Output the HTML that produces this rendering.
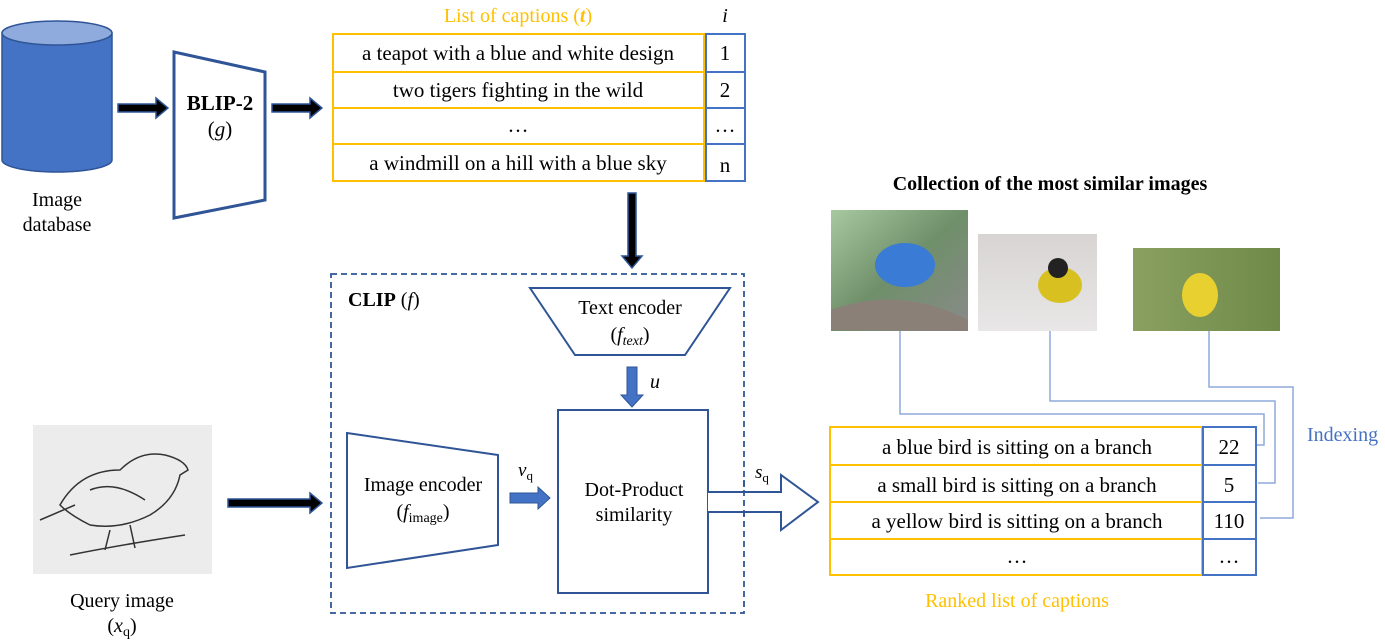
<!DOCTYPE html>
<html><head><meta charset="utf-8"><style>
body{margin:0;background:#fff}
svg{display:block;font-family:"Liberation Serif",serif}
</style></head><body>
<svg width="1385" height="640" viewBox="0 0 1385 640" xmlns="http://www.w3.org/2000/svg">
<defs>
<linearGradient id="b1" x1="0" y1="0" x2="1" y2="1"><stop offset="0" stop-color="#a8c8a0"/><stop offset="0.5" stop-color="#6f8f6a"/><stop offset="1" stop-color="#8a8a8a"/></linearGradient>
<linearGradient id="b2" x1="0" y1="0" x2="0" y2="1"><stop offset="0" stop-color="#d8d4d4"/><stop offset="1" stop-color="#e8e6e6"/></linearGradient>
<linearGradient id="b3" x1="0" y1="0" x2="1" y2="0"><stop offset="0" stop-color="#8aa060"/><stop offset="1" stop-color="#6f8a48"/></linearGradient>
</defs>
<path d="M2 33 L2 160 A55 12 0 0 0 112 160 L112 33 Z" fill="#4472C4" stroke="#2F5597" stroke-width="1.5"/>
<ellipse cx="57" cy="33" rx="55" ry="12" fill="#8FAADC" stroke="#2F5597" stroke-width="1.5"/>
<text x="57" y="206" font-size="20" text-anchor="middle">Image</text>
<text x="57" y="231" font-size="20" text-anchor="middle">database</text>
<g fill="#000" stroke="#2F5597" stroke-width="1.5">
<path d="M118 104 L156 104 L156 98 L168 108 L156 118 L156 112 L118 112 Z"/>
<path d="M272 104 L310 104 L310 98 L322 108 L310 118 L310 112 L272 112 Z"/>
<path d="M628 193 L636 193 L636 256 L642 256 L632 268 L622 256 L628 256 Z"/>
<path d="M228 499 L310 499 L310 493 L322 503 L310 513 L310 507 L228 507 Z"/>
</g>
<path d="M174 52 L265 72 L265 200 L174 218 Z" fill="#fff" stroke="#2F5597" stroke-width="3"/>
<text x="220" y="110" font-size="21" font-weight="bold" text-anchor="middle">BLIP-2</text>
<text x="220" y="136" font-size="21" text-anchor="middle">(<tspan font-style="italic">g</tspan>)</text>
<text x="518" y="22" font-size="20" fill="#FFC000" text-anchor="middle">List of captions (<tspan font-style="italic" font-weight="bold">t</tspan>)</text>
<text x="725" y="22" font-size="20" font-style="italic" text-anchor="middle">i</text>
<g fill="#fff" stroke="#FFC000" stroke-width="2">
<rect x="333" y="34" width="371" height="38"/><rect x="333" y="72" width="371" height="36"/>
<rect x="333" y="108" width="371" height="36"/><rect x="333" y="144" width="371" height="37"/>
</g>
<g fill="#fff" stroke="#4472C4" stroke-width="2">
<rect x="706" y="34" width="39" height="38"/><rect x="706" y="72" width="39" height="36"/>
<rect x="706" y="108" width="39" height="36"/><rect x="706" y="144" width="39" height="37"/>
</g>
<g font-size="21" text-anchor="middle">
<text x="518" y="60">a teapot with a blue and white design</text>
<text x="518" y="97">two tigers fighting in the wild</text>
<text x="518" y="132">…</text>
<text x="518" y="170">a windmill on a hill with a blue sky</text>
<text x="725" y="60">1</text><text x="725" y="97">2</text><text x="725" y="132">…</text><text x="725" y="172">n</text>
</g>
<rect x="331" y="274" width="413" height="339" fill="none" stroke="#2F5597" stroke-width="1.8" stroke-dasharray="6,4"/>
<text x="348" y="306" font-size="20"><tspan font-weight="bold">CLIP</tspan> (<tspan font-style="italic">f</tspan>)</text>
<path d="M530 288 L730 288 L685 355 L575 355 Z" fill="#fff" stroke="#2F5597" stroke-width="2"/>
<text x="630" y="314" font-size="20" text-anchor="middle">Text encoder</text>
<text x="630" y="341" font-size="20" text-anchor="middle">(<tspan font-style="italic">f</tspan><tspan font-style="italic" font-size="14" dy="4">text</tspan><tspan dy="-4">)</tspan></text>
<path d="M627 367 L637 367 L637 395 L643 395 L632 407 L621 395 L627 395 Z" fill="#4472C4" stroke="#2F5597"/>
<text x="650" y="388" font-size="20" font-style="italic">u</text>
<rect x="558" y="410" width="150" height="183" fill="#fff" stroke="#2F5597" stroke-width="2"/>
<text x="634" y="496" font-size="20" text-anchor="middle">Dot-Product</text>
<text x="634" y="521" font-size="20" text-anchor="middle">similarity</text>
<path d="M347 433 L498 455 L498 545 L347 568 Z" fill="#fff" stroke="#2F5597" stroke-width="2"/>
<text x="423" y="491" font-size="20" text-anchor="middle">Image encoder</text>
<text x="423" y="518" font-size="20" text-anchor="middle">(<tspan font-style="italic">f</tspan><tspan font-size="14" dy="4">image</tspan><tspan dy="-4">)</tspan></text>
<path d="M510 493 L538 493 L538 487 L550 498 L538 509 L538 503 L510 503 Z" fill="#4472C4" stroke="#2F5597"/>
<text x="518" y="476" font-size="19" font-style="italic">v<tspan font-style="normal" font-size="13" dy="4">q</tspan></text>
<path d="M708 492 L781 492 L781 475 L818 502 L781 530 L781 512 L708 512" fill="#fff" stroke="#2F5597" stroke-width="2"/>
<line x1="744" y1="480" x2="744" y2="520" stroke="#2F5597" stroke-width="1.8" stroke-dasharray="6,4"/>
<text x="755" y="478" font-size="19" font-style="italic">s<tspan font-style="normal" font-size="13" dy="4">q</tspan></text>
<rect x="33" y="425" width="179" height="149" fill="#ececec"/>
<g fill="none" stroke="#333" stroke-width="1.5">
<path d="M60 505 Q80 470 120 470 Q140 450 165 455 Q185 460 188 470 L180 475 Q175 500 150 515 Q120 530 90 525 Q70 515 60 505 Z"/>
<path d="M90 490 Q115 480 145 500"/><path d="M40 520 L75 505"/><path d="M110 530 L105 550 M130 525 L135 548"/>
<path d="M70 555 Q120 545 185 535"/>
</g>
<text x="122" y="607" font-size="20" text-anchor="middle">Query image</text>
<text x="122" y="632" font-size="20" text-anchor="middle">(<tspan font-style="italic">x</tspan><tspan font-size="14" dy="4">q</tspan><tspan dy="-4">)</tspan></text>
<text x="1050" y="190" font-size="20" font-weight="bold" text-anchor="middle">Collection of the most similar images</text>
<rect x="831" y="210" width="137" height="121" fill="url(#b1)"/>
<path d="M831 330 L831 310 Q900 285 968 320 L968 331 Z" fill="#8a8078"/>
<ellipse cx="905" cy="265" rx="30" ry="22" fill="#3a7bd5"/>
<rect x="978" y="234" width="119" height="97" fill="url(#b2)"/>
<ellipse cx="1060" cy="285" rx="22" ry="18" fill="#d8c020"/><circle cx="1058" cy="268" r="10" fill="#222"/>
<rect x="1133" y="248" width="147" height="83" fill="url(#b3)"/>
<ellipse cx="1200" cy="295" rx="18" ry="22" fill="#e8d030"/>
<g fill="none" stroke="#8FAADC" stroke-width="1.5">
<path d="M900 331 L900 414 L1264 414 L1264 445 L1256 445"/>
<path d="M1050 331 L1050 401 L1275 401 L1275 483 L1258 483"/>
<path d="M1209 331 L1209 387 L1293 387 L1293 518 L1260 518"/>
</g>
<text x="1307" y="441" font-size="20" fill="#4472C4">Indexing</text>
<g fill="#fff" stroke="#FFC000" stroke-width="2">
<rect x="830" y="427" width="372" height="38"/><rect x="830" y="465" width="372" height="37"/>
<rect x="830" y="502" width="372" height="37"/><rect x="830" y="539" width="372" height="36"/>
</g>
<g fill="#fff" stroke="#4472C4" stroke-width="2">
<rect x="1203" y="427" width="53" height="38"/><rect x="1203" y="465" width="53" height="37"/>
<rect x="1203" y="502" width="53" height="37"/><rect x="1203" y="539" width="53" height="36"/>
</g>
<g font-size="21" text-anchor="middle">
<text x="1017" y="454">a blue bird is sitting on a branch</text>
<text x="1017" y="492">a small bird is sitting on a branch</text>
<text x="1017" y="528">a yellow bird is sitting on a branch</text>
<text x="1017" y="563">…</text>
<text x="1229" y="454">22</text><text x="1229" y="492">5</text><text x="1229" y="528">110</text><text x="1229" y="563">…</text>
</g>
<text x="1017" y="607" font-size="20" fill="#FFC000" text-anchor="middle">Ranked list of captions</text>
</svg>
</body></html>
